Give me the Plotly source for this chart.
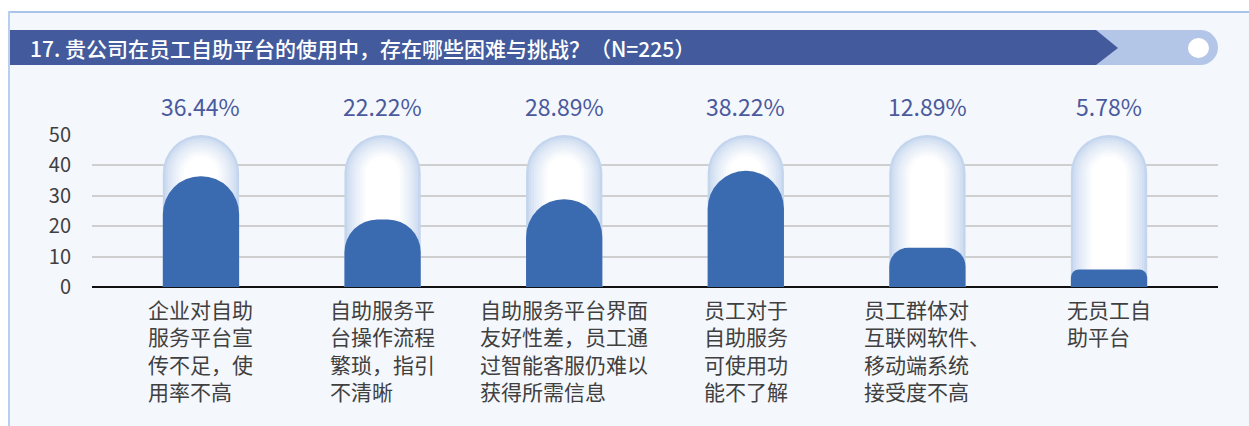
import plotly.graph_objects as go

# data
categories = ["企业对自助服务平台宣传不足，使用率不高", "自助服务平台操作流程繁琐，指引不清晰",
              "自助服务平台界面友好性差，员工通过智能客服仍难以获得所需信息",
              "员工对于自助服务可使用功能不了解", "员工群体对互联网软件、移动端系统接受度不高",
              "无员工自助平台"]
label_lines = [
    ["企业对自助", "服务平台宣", "传不足，使", "用率不高"],
    ["自助服务平", "台操作流程", "繁琐，指引", "不清晰"],
    ["自助服务平台界面", "友好性差，员工通", "过智能客服仍难以", "获得所需信息"],
    ["员工对于", "自助服务", "可使用功", "能不了解"],
    ["员工群体对", "互联网软件、", "移动端系统", "接受度不高"],
    ["无员工自", "助平台"],
]
pct = [36.44, 22.22, 28.89, 38.22, 12.89, 5.78]
track_max = 50
y_ticks = [0, 10, 20, 30, 40, 50]
title = "17. 贵公司在员工自助平台的使用中，存在哪些困难与挑战？（N=225）"

W, H = 1249, 426
L, R, T, B = 92, 1218, 135, 287
FONT = "Noto Sans CJK SC"
BAR_W = 0.42
X_RANGE = [-0.6, 5.6]
PX_PER_UNIT_X = (R - L) / (X_RANGE[1] - X_RANGE[0])
PX_PER_UNIT_Y = (B - T) / 50


def pp(x, y):
    # pixel -> paper coords
    return (x - L) / (R - L), (B - y) / (B - T)


def rect(x0, y0, x1, y1, color, kind="rect", layer="above"):
    a, b = pp(x0, y1)
    c, d = pp(x1, y0)
    return dict(type=kind, xref="paper", yref="paper", x0=a, y0=b, x1=c, y1=d,
                fillcolor=color, line_width=0, layer=layer)


def mix(c1, c2, t):
    a = [int(c1[i:i + 2], 16) for i in (1, 3, 5)]
    b = [int(c2[i:i + 2], 16) for i in (1, 3, 5)]
    return "#" + "".join(f"{round(p + (q - p) * t):02x}" for p, q in zip(a, b))


x = list(range(len(categories)))
fig = go.Figure()
n_ax = 0


def next_axis():
    global n_ax
    n_ax += 1
    return "x" if n_ax == 1 else f"x{n_ax}"


# glassy track behind each bar, faked with nested rounded bars (one x axis each,
# so every layer keeps its rounded top)
steps = 9
for s in range(steps):
    t = s / (steps - 1)
    w = BAR_W * (1 - 0.55 * t)
    drop = 7.0 * t
    fig.add_trace(go.Bar(x=x, y=[track_max - drop] * len(x), width=w, xaxis=next_axis(),
                         marker=dict(color=mix("#c4d5ee", "#ffffff", t ** 0.7), line_width=0,
                                     cornerradius="50%"),
                         hoverinfo="skip"))

# value bars: cap radius never more than half the bar height
for i, v in enumerate(pct):
    r = min(BAR_W * PX_PER_UNIT_X / 2, v * PX_PER_UNIT_Y / 2)
    fig.add_trace(go.Bar(x=[i], y=[v], width=BAR_W, xaxis=next_axis(),
                         marker=dict(color="#3a6aaf", line_width=0, cornerradius=r),
                         hovertext=[categories[i]], hoverinfo="text+y"))

annotations = []
for i, v in enumerate(pct):
    annotations.append(dict(x=i, y=track_max, xref="x", yref="y", text=f"{v:.2f}%",
                            showarrow=False, yanchor="bottom", yshift=10,
                            font=dict(family=FONT, size=23, color="#4a5a9d")))
    annotations.append(dict(x=i, y=0, xref="x", yref="y", text="<br>".join(label_lines[i]),
                            showarrow=False, xanchor="center", yanchor="top", align="left",
                            yshift=-5, font=dict(family=FONT, size=21, color="#404040")))

tx, ty = pp(28, 48)
annotations.append(dict(x=tx, y=ty, xref="paper", yref="paper", text=title, showarrow=False,
                        xanchor="left", yanchor="middle",
                        font=dict(family=FONT, size=21, color="white", weight=500)))

# chevron title bar
pts = [(10, 30), (1096, 30), (1118, 48), (1096, 65), (10, 65)]
path = "M " + " L ".join(f"{pp(a, b)[0]},{pp(a, b)[1]}" for a, b in pts) + " Z"

shapes = [
    rect(0, 0, W, 12, "white"),
    rect(0, 0, 9, H, "white"),
    rect(9, 11, W, 13, "#a9c4e8"),
    rect(8, 11, 10, H, "#b8cfee"),
    rect(1090, 30, 1200, 65, "#b4c6e7"),
    rect(1183, 30, 1218, 65, "#b4c6e7", kind="circle"),
    dict(type="path", xref="paper", yref="paper", path=path, fillcolor="#435b9c",
         line_width=0, layer="above"),
    rect(1188, 38, 1209, 58, "white", kind="circle"),
]

xa = dict(range=X_RANGE, showticklabels=False, showgrid=False, zeroline=False,
          fixedrange=True)
layout_axes = {"xaxis": xa}
for k in range(2, n_ax + 1):
    layout_axes[f"xaxis{k}"] = dict(xa, overlaying="x", visible=False)

fig.update_layout(
    width=W, height=H, barmode="overlay", showlegend=False,
    margin=dict(l=L, r=W - R, t=T, b=H - B, pad=0),
    paper_bgcolor="#f4f7fc", plot_bgcolor="rgba(0,0,0,0)",
    font=dict(family=FONT),
    yaxis=dict(range=[0, 50], tickvals=y_ticks, showgrid=True, gridcolor="#cfcfcf",
               gridwidth=1.5, zeroline=True, zerolinecolor="#111111", zerolinewidth=2,
               tickfont=dict(size=20, color="#3f3f3f"), ticklabelstandoff=20,
               fixedrange=True),
    shapes=shapes, annotations=annotations,
    **layout_axes,
)

fig.write_html("out.html", config={"displayModeBar": False},
               post_script="document.body.style.margin='0';")
